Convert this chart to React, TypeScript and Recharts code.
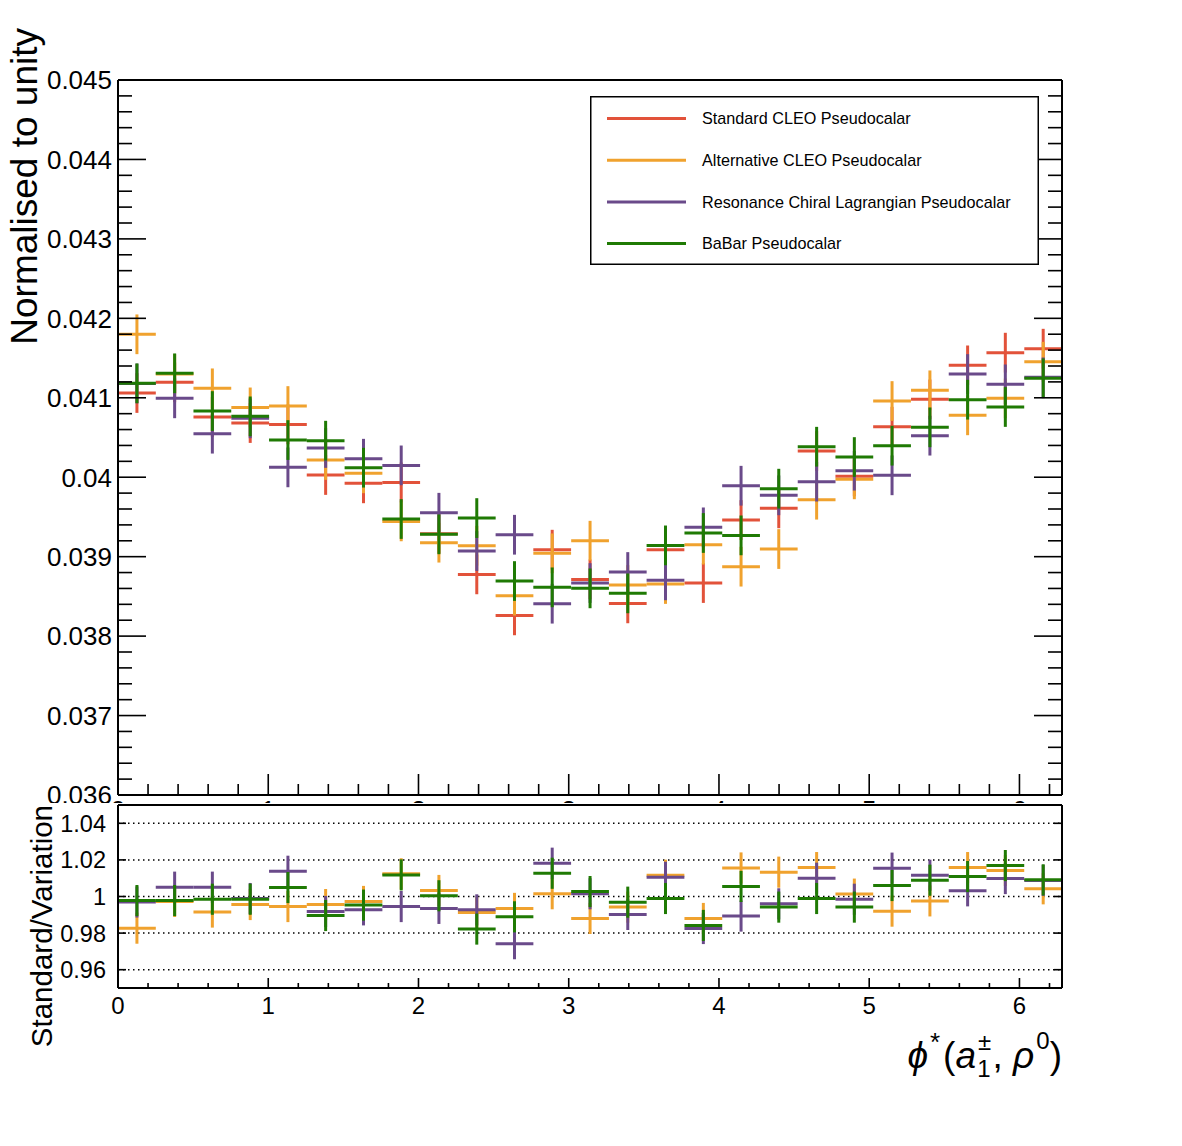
import React from 'react';
import { ComposedChart, Scatter, ErrorBar, XAxis, YAxis, ReferenceLine, Legend } from 'recharts';

const FONT = '"Liberation Sans", Arial, Helvetica, sans-serif';
const TWO_PI = 6.283185;

// centres of the 25 phi* bins between 0 and 2pi
const binCenters = [
  0.126, 0.377, 0.628, 0.88, 1.131, 1.382, 1.634, 1.885, 2.136, 2.388, 2.639, 2.89, 3.142,
  3.393, 3.644, 3.896, 4.147, 4.398, 4.65, 4.901, 5.152, 5.404, 5.655, 5.906, 6.158,
];
const binHalfWidth = 0.1257;

// normalised distributions (upper pad)
const standardCleo = [
  0.04106, 0.041194, 0.040758, 0.040682, 0.040665, 0.040028, 0.039923, 0.039935, 0.03929, 0.038777,
  0.038261, 0.039088, 0.038714, 0.038412, 0.039088, 0.038668, 0.039461, 0.039608, 0.04033, 0.040011,
  0.040636, 0.04098, 0.041408, 0.041568, 0.041618,
];
const alternativeCleo = [
  0.041799, 0.0413, 0.041119, 0.040879, 0.040896, 0.040217, 0.040049, 0.039444, 0.039176, 0.039138,
  0.038509, 0.039042, 0.039201, 0.038643, 0.038656, 0.039151, 0.038874, 0.039096, 0.039717, 0.039973,
  0.040959, 0.041094, 0.040779, 0.040993, 0.041454,
];
const resonanceChiral = [
  0.04118, 0.040993, 0.040548, 0.040741, 0.040124, 0.040368, 0.040233, 0.040149, 0.039553, 0.039071,
  0.039276, 0.038408, 0.038668, 0.038807, 0.038702, 0.039369, 0.039893, 0.039772, 0.039944, 0.040082,
  0.040024, 0.040523, 0.041299, 0.041169, 0.041257,
];
const babar = [
  0.041182, 0.041308, 0.040833, 0.040766, 0.040468, 0.04046, 0.04012, 0.039474, 0.039281, 0.039486,
  0.038693, 0.038614, 0.038601, 0.038538, 0.039142, 0.039298, 0.039268, 0.039856, 0.040384, 0.040254,
  0.040397, 0.040628, 0.040976, 0.040884, 0.041245,
];
const mainError = 0.00025;

// Standard / Variation ratios (lower pad)
const ratioAlternative = [
  0.9827, 0.9973, 0.9915, 0.9956, 0.9945, 0.9956, 0.9973, 1.0124, 1.0033, 0.9913, 0.9935, 1.0015,
  0.988, 0.9942, 1.0116, 0.988, 1.0156, 1.0133, 1.0158, 1.0013, 0.992, 0.9976, 1.0158, 1.0142, 1.0042,
];
const ratioResonance = [
  0.997, 1.0051, 1.0051, 0.9989, 1.0138, 0.9918, 0.9927, 0.9945, 0.9935, 0.9927, 0.9742, 1.0182,
  1.0015, 0.9902, 1.0105, 0.9825, 0.9893, 0.996, 1.01, 0.9985, 1.0155, 1.0116, 1.0031, 1.0098, 1.0088,
];
const ratioBabar = [
  0.9978, 0.9978, 0.9985, 0.9985, 1.0049, 0.9896, 0.9953, 1.0118, 1.0004, 0.9822, 0.9889, 1.0127,
  1.0027, 0.9969, 0.9989, 0.9842, 1.0055, 0.9942, 0.9989, 0.9942, 1.006, 1.0089, 1.0109, 1.0169, 1.0091,
];
const ratioError = 0.0085;

const seriesNames = [
  'Standard CLEO Pseudocalar',
  'Alternative CLEO Pseudocalar',
  'Resonance Chiral Lagrangian Pseudocalar',
  'BaBar Pseudocalar',
];
const seriesColors = ['#e2523a', '#f0a22e', '#6a4a8a', '#1f7a04'];

const xTicks = Array.from({ length: 32 }, (_, i) => (i * 2) / 10);
const mainYTicks = Array.from({ length: 46 }, (_, i) => (360 + 2 * i) / 10000);
const ratioYTicks = [0.96, 0.98, 1, 1.02, 1.04];

const toRows = (values: number[], err: number) =>
  values.map((v, i) => ({ x: binCenters[i], y: v, ex: binHalfWidth, ey: err }));

const isIntX = (v: number) => Math.abs(v - Math.round(v)) < 1e-6;
const isMajorMainY = (v: number) => Math.round(v * 10000) % 10 === 0;
const always = () => true;

type TickOpts = {
  side: 'left' | 'right' | 'top' | 'bottom';
  isMajor: (v: number) => boolean;
  major: number;
  minor: number;
  label?: boolean;
  fontSize?: number;
  offset?: number;
};

// ROOT style ticks: drawn inside the frame, labels outside
const makeTick = (o: TickOpts) => (props: any) => {
  const { x, y, payload } = props;
  const v = payload.value as number;
  const major = o.isMajor(v);
  const len = major ? o.major : o.minor;
  let x2 = x;
  let y2 = y;
  if (o.side === 'left') x2 = x + len;
  if (o.side === 'right') x2 = x - len;
  if (o.side === 'bottom') y2 = y - len;
  if (o.side === 'top') y2 = y + len;
  let label = null;
  if (o.label && major) {
    label =
      o.side === 'left' ? (
        <text x={x - (o.offset || 0)} y={y} dy="0.36em" textAnchor="end" fontSize={o.fontSize} fontFamily={FONT} fill="#000">
          {String(v)}
        </text>
      ) : (
        <text x={x} y={y + (o.offset || 0)} textAnchor="middle" fontSize={o.fontSize} fontFamily={FONT} fill="#000">
          {String(Math.round(v))}
        </text>
      );
  }
  return (
    <g>
      <line x1={x} y1={y} x2={x2} y2={y2} stroke="#000" strokeWidth={1.6} />
      {label}
    </g>
  );
};

const frameLine = { stroke: '#000', strokeWidth: 2 };

const LegendBox = () => (
  <svg width={449} height={169} style={{ display: 'block' }}>
    <rect x={0.75} y={0.75} width={447.5} height={167.5} fill="#fff" stroke="#000" strokeWidth={1.5} />
    {seriesNames.map((name, i) => {
      const yy = 22.5 + i * 41.7;
      return (
        <g key={name}>
          <line x1={17} x2={96} y1={yy} y2={yy} stroke={seriesColors[i]} strokeWidth={3} />
          <text x={112} y={yy} dy="0.36em" fontSize={16.2} fontFamily={FONT} fill="#000">
            {name}
          </text>
        </g>
      );
    })}
  </svg>
);

const mainSeries = [standardCleo, alternativeCleo, resonanceChiral, babar];
const ratioSeries = [
  { values: ratioAlternative, color: seriesColors[1] },
  { values: ratioResonance, color: seriesColors[2] },
  { values: ratioBabar, color: seriesColors[3] },
];

const noShape = () => <g />;

const App: React.FC = () => {
  return (
    <div style={{ position: 'absolute', left: 0, top: 0, width: 1182, height: 1146, background: '#fff', fontFamily: FONT }}>
      {/* upper pad */}
      <div style={{ position: 'absolute', left: 0, top: 0 }}>
        <ComposedChart width={1182} height={840} margin={{ top: 80, right: 120, bottom: 15, left: 8 }}>
          <XAxis
            xAxisId="x"
            type="number"
            dataKey="x"
            domain={[0, TWO_PI]}
            allowDataOverflow
            ticks={xTicks}
            interval={0}
            height={30}
            tickSize={0}
            tickMargin={0}
            tickLine={false}
            axisLine={frameLine}
            tick={makeTick({ side: 'bottom', isMajor: isIntX, major: 21, minor: 11, label: true, fontSize: 26, offset: 24 })}
          />
          <XAxis
            xAxisId="top"
            orientation="top"
            mirror
            type="number"
            domain={[0, TWO_PI]}
            allowDataOverflow
            ticks={xTicks}
            interval={0}
            tickSize={0}
            tickMargin={0}
            tickLine={false}
            axisLine={frameLine}
            tick={makeTick({ side: 'top', isMajor: isIntX, major: 21, minor: 11 })}
          />
          <YAxis
            yAxisId="y"
            type="number"
            dataKey="y"
            domain={[0.036, 0.045]}
            allowDataOverflow
            ticks={mainYTicks}
            interval={0}
            width={110}
            tickSize={0}
            tickMargin={0}
            tickLine={false}
            axisLine={frameLine}
            tick={makeTick({ side: 'left', isMajor: isMajorMainY, major: 28, minor: 14, label: true, fontSize: 26, offset: 6 })}
          />
          <YAxis
            yAxisId="right"
            orientation="right"
            mirror
            type="number"
            domain={[0.036, 0.045]}
            allowDataOverflow
            ticks={mainYTicks}
            interval={0}
            tickSize={0}
            tickMargin={0}
            tickLine={false}
            axisLine={frameLine}
            tick={makeTick({ side: 'right', isMajor: isMajorMainY, major: 28, minor: 14 })}
          />
          {mainSeries.map((values, i) => (
            <Scatter
              key={seriesNames[i]}
              name={seriesNames[i]}
              xAxisId="x"
              yAxisId="y"
              data={toRows(values, mainError)}
              fill={seriesColors[i]}
              shape={noShape}
              isAnimationActive={false}
            >
              <ErrorBar dataKey="ex" direction="x" width={0} stroke={seriesColors[i]} strokeWidth={3} />
              <ErrorBar dataKey="ey" direction="y" width={0} stroke={seriesColors[i]} strokeWidth={3} />
            </Scatter>
          ))}
          <Legend
            layout="vertical"
            align="center"
            verticalAlign="middle"
            content={() => <LegendBox />}
            wrapperStyle={{ left: 590, top: 96, width: 449, height: 169 }}
          />
        </ComposedChart>
      </div>

      {/* lower ratio pad */}
      <div style={{ position: 'absolute', left: 0, top: 803, background: '#fff' }}>
        <ComposedChart width={1182} height={343} margin={{ top: 2, right: 120, bottom: 128, left: 8 }}>
          <XAxis
            xAxisId="x"
            type="number"
            dataKey="x"
            domain={[0, TWO_PI]}
            allowDataOverflow
            ticks={xTicks}
            interval={0}
            height={30}
            tickSize={0}
            tickMargin={0}
            tickLine={false}
            axisLine={frameLine}
            tick={makeTick({ side: 'bottom', isMajor: isIntX, major: 10, minor: 5, label: true, fontSize: 24, offset: 26 })}
          />
          <XAxis
            xAxisId="top"
            orientation="top"
            mirror
            type="number"
            domain={[0, TWO_PI]}
            allowDataOverflow
            ticks={xTicks}
            interval={0}
            tickSize={0}
            tickMargin={0}
            tickLine={false}
            axisLine={frameLine}
            tick={makeTick({ side: 'top', isMajor: isIntX, major: 10, minor: 6 })}
          />
          <YAxis
            yAxisId="y"
            type="number"
            dataKey="y"
            domain={[0.95, 1.05]}
            allowDataOverflow
            ticks={ratioYTicks}
            interval={0}
            width={110}
            tickSize={0}
            tickMargin={0}
            tickLine={false}
            axisLine={frameLine}
            tick={makeTick({ side: 'left', isMajor: always, major: 8, minor: 8, label: true, fontSize: 23.5, offset: 12 })}
          />
          <YAxis
            yAxisId="right"
            orientation="right"
            mirror
            type="number"
            domain={[0.95, 1.05]}
            allowDataOverflow
            ticks={ratioYTicks}
            interval={0}
            tickSize={0}
            tickMargin={0}
            tickLine={false}
            axisLine={frameLine}
            tick={makeTick({ side: 'right', isMajor: always, major: 8, minor: 8 })}
          />
          {ratioYTicks.map((v) => (
            <ReferenceLine key={v} xAxisId="x" yAxisId="y" y={v} stroke="#000" strokeWidth={1.5} strokeDasharray="1.5 3.5" />
          ))}
          {ratioSeries.map((s, i) => (
            <Scatter
              key={i}
              xAxisId="x"
              yAxisId="y"
              data={toRows(s.values, ratioError)}
              fill={s.color}
              shape={noShape}
              isAnimationActive={false}
            >
              <ErrorBar dataKey="ex" direction="x" width={0} stroke={s.color} strokeWidth={3} />
              <ErrorBar dataKey="ey" direction="y" width={0} stroke={s.color} strokeWidth={3} />
            </Scatter>
          ))}
        </ComposedChart>
      </div>

      {/* axis titles */}
      <svg width={1182} height={1146} style={{ position: 'absolute', left: 0, top: 0, pointerEvents: 'none' }}>
        <text transform="translate(37, 28) rotate(-90)" textAnchor="end" fontSize={37} fontFamily={FONT} fill="#000">
          Normalised to unity
        </text>
        <text transform="translate(52, 805) rotate(-90)" textAnchor="end" fontSize={29.5} fontFamily={FONT} fill="#000">
          Standard/Variation
        </text>
        <text x={1062} y={1068} textAnchor="end" fontSize={37} fontFamily={FONT} fill="#000">
          <tspan fontStyle="italic">ϕ</tspan>
          <tspan dx={2} dy={-17} fontSize={26}>*</tspan>
          <tspan dx={3} dy={17}>(</tspan>
          <tspan fontStyle="italic">a</tspan>
          <tspan dx={2} dy={-18} fontSize={24}>±</tspan>
          <tspan dx={-14} dy={27} fontSize={24}>1</tspan>
          <tspan dx={2} dy={-9}>, </tspan>
          <tspan fontStyle="italic">ρ</tspan>
          <tspan dx={2} dy={-19} fontSize={24}>0</tspan>
          <tspan dy={19}>)</tspan>
        </text>
      </svg>
    </div>
  );
};

export default App;
